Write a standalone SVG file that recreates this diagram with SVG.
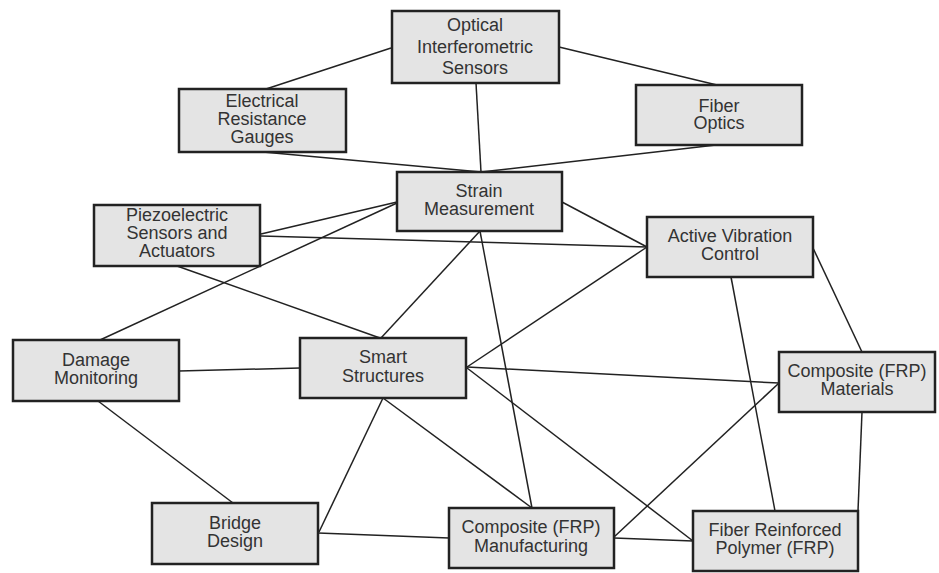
<svg xmlns="http://www.w3.org/2000/svg" width="939" height="573" viewBox="0 0 939 573">
<style>
.box{fill:#e4e4e4;stroke:#222;stroke-width:2.5}
.t{font-family:"Liberation Sans",Arial,sans-serif;font-size:18px;fill:#333;text-anchor:middle}
.c line{stroke:#222;stroke-width:1.5}
</style>
<rect width="939" height="573" fill="#fff"/>
<g class="c" id="connectors">
<line x1="391" y1="48" x2="266" y2="89"/>
<line x1="559" y1="47" x2="717" y2="85"/>
<line x1="476" y1="83" x2="481" y2="172"/>
<line x1="263" y1="152" x2="481" y2="172"/>
<line x1="716" y1="145" x2="481" y2="172"/>
<line x1="261" y1="234" x2="397" y2="202"/>
<line x1="261" y1="236" x2="647" y2="247"/>
<line x1="100" y1="340" x2="397" y2="203"/>
<line x1="177" y1="266" x2="380" y2="338"/>
<line x1="480" y1="231" x2="381" y2="338"/>
<line x1="480" y1="231" x2="532" y2="508"/>
<line x1="562" y1="202" x2="647" y2="247"/>
<line x1="647" y1="247" x2="467" y2="367"/>
<line x1="731" y1="277" x2="775" y2="511"/>
<line x1="813" y1="248" x2="862" y2="352"/>
<line x1="179" y1="371" x2="300" y2="368"/>
<line x1="98" y1="401" x2="233" y2="503"/>
<line x1="383" y1="398" x2="319" y2="532"/>
<line x1="383" y1="398" x2="532" y2="508"/>
<line x1="467" y1="367" x2="779" y2="383"/>
<line x1="467" y1="368" x2="693" y2="541"/>
<line x1="318" y1="533" x2="449" y2="538"/>
<line x1="614" y1="538" x2="693" y2="541"/>
<line x1="614" y1="537" x2="779" y2="383"/>
<line x1="862" y1="412" x2="858" y2="511"/>
</g>
<g id="optical"><rect class="box" x="392" y="11" width="167" height="72"/><text class="t" x="475" y="31">Optical</text><text class="t" x="475" y="53">Interferometric</text><text class="t" x="475" y="74">Sensors</text></g>
<g id="electrical"><rect class="box" x="179" y="89" width="167" height="63"/><text class="t" x="262" y="107">Electrical</text><text class="t" x="262" y="125">Resistance</text><text class="t" x="262" y="143">Gauges</text></g>
<g id="fiber-optics"><rect class="box" x="636" y="85" width="166" height="60"/><text class="t" x="719" y="112">Fiber</text><text class="t" x="719" y="129">Optics</text></g>
<g id="piezo"><rect class="box" x="94" y="205" width="166" height="61"/><text class="t" x="177" y="221">Piezoelectric</text><text class="t" x="177" y="239">Sensors and</text><text class="t" x="177" y="257">Actuators</text></g>
<g id="strain"><rect class="box" x="397" y="172" width="165" height="59"/><text class="t" x="479" y="197">Strain</text><text class="t" x="479" y="215">Measurement</text></g>
<g id="active"><rect class="box" x="647" y="217" width="166" height="60"/><text class="t" x="730" y="242">Active Vibration</text><text class="t" x="730" y="260">Control</text></g>
<g id="damage"><rect class="box" x="13" y="340" width="166" height="61"/><text class="t" x="96" y="366">Damage</text><text class="t" x="96" y="384">Monitoring</text></g>
<g id="smart"><rect class="box" x="300" y="338" width="166" height="60"/><text class="t" x="383" y="363">Smart</text><text class="t" x="383" y="382">Structures</text></g>
<g id="composite-materials"><rect class="box" x="779" y="352" width="156" height="60"/><text class="t" x="857" y="377">Composite (FRP)</text><text class="t" x="857" y="395">Materials</text></g>
<g id="bridge"><rect class="box" x="152" y="503" width="166" height="61"/><text class="t" x="235" y="529">Bridge</text><text class="t" x="235" y="547">Design</text></g>
<g id="composite-manufacturing"><rect class="box" x="449" y="508" width="165" height="60"/><text class="t" x="531" y="533">Composite (FRP)</text><text class="t" x="531" y="552">Manufacturing</text></g>
<g id="frp"><rect class="box" x="693" y="511" width="165" height="60"/><text class="t" x="775" y="536">Fiber Reinforced</text><text class="t" x="775" y="554">Polymer (FRP)</text></g>
</svg>
